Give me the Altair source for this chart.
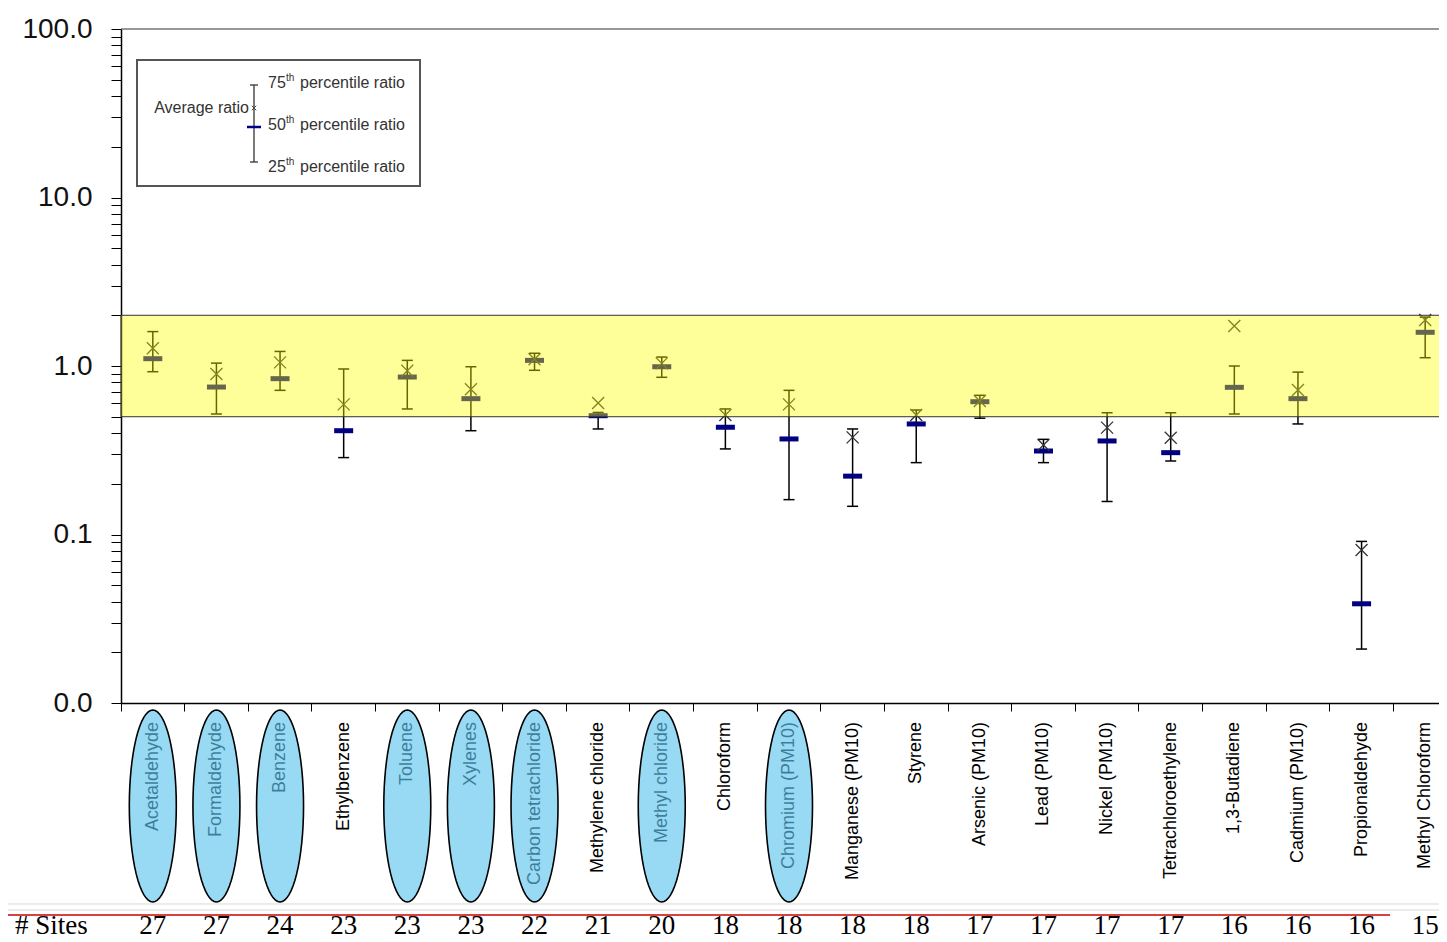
import math
import altair as alt
import pandas as pd

names = ["Acetaldehyde", "Formaldehyde", "Benzene", "Ethylbenzene", "Toluene", "Xylenes",
         "Carbon tetrachloride", "Methylene chloride", "Methyl chloride", "Chloroform",
         "Chromium (PM10)", "Manganese (PM10)", "Styrene", "Arsenic (PM10)", "Lead (PM10)",
         "Nickel (PM10)", "Tetrachloroethylene", "1,3-Butadiene", "Cadmium (PM10)",
         "Propionaldehyde", "Methyl Chloroform"]
p75 = [1.60, 1.04, 1.22, 0.96, 1.08, 0.99, 1.19, 0.53, 1.13, 0.556, 0.717, 0.423, 0.548,
       0.67, 0.367, 0.528, 0.528, 1.00, 0.92, 0.091, 1.95]
p50 = [1.105, 0.75, 0.841, 0.413, 0.86, 0.64, 1.08, 0.507, 0.99, 0.433, 0.369, 0.222, 0.453,
       0.614, 0.313, 0.359, 0.306, 0.747, 0.64, 0.0388, 1.585]
p25 = [0.925, 0.519, 0.717, 0.286, 0.556, 0.413, 0.943, 0.423, 0.857, 0.322, 0.161, 0.147,
       0.267, 0.49, 0.267, 0.157, 0.273, 0.519, 0.453, 0.0209, 1.12]
means = [1.274, 0.897, 1.051, 0.592, 0.938, 0.727, 1.096, 0.603, 1.037, 0.512, 0.592, 0.377,
         0.512, 0.62, 0.34, 0.431, 0.375, 1.727, 0.72, 0.0809, 1.875]
sites = [27, 27, 24, 23, 23, 23, 22, 21, 20, 18, 18, 18, 18, 17, 17, 17, 17, 16, 16, 16, 15]
highlighted = ["Acetaldehyde", "Formaldehyde", "Benzene", "Toluene", "Xylenes",
               "Carbon tetrachloride", "Methyl chloride", "Chromium (PM10)"]
band_low = [0.5]
band_high = [2.0]
major_ticks = [0.01, 0.1, 1, 10, 100]
y_ticks = [round(k * 10 ** e, 4) for e in range(-2, 2) for k in range(1, 10)] + [100]

legend_rows = ["75", "50", "25"]
legend_suffix = "percentile ratio"

df = pd.DataFrame({"name": names, "p25": p25, "p50": p50, "p75": p75, "mean": means,
                   "sites": sites})
df["hl"] = df["name"].isin(highlighted)
band_df = pd.DataFrame({"lo": band_low, "hi": band_high})
one = alt.Data(values=[{"k": 1}])

W, H = 1318, 674     # visible plot area (the chart is cropped on the right)
RANGE = 1336         # full category range, extends past the right crop
BOTTOM = 238
SANS = "Liberation Sans"
SERIF = "Liberation Serif"

yscale = alt.Scale(type="log", domain=[0.01, 100], nice=False)
xscale = alt.Scale(type="band", paddingInner=0, paddingOuter=0, range=[0, RANGE])
xaxis = alt.Axis(labels=False, bandPosition=0, tickSize=8, tickColor="black", domainColor="black",
                 domainWidth=1.5, tickWidth=1, title=None, grid=False)
yaxis = alt.Axis(values=y_ticks,
                 labelExpr="indexof(%s, datum.value) >= 0 ? format(datum.value, '.1f') : ''" % str(major_ticks),
                 tickSize=10, labelPadding=19, labelFontSize=28, labelFont=SANS, labelColor="#111",
                 labelOverlap=False, labelFlush=False, grid=False, title=None,
                 domainColor="black", domainWidth=1.5, tickColor="black", tickWidth=1)

X = alt.X("name:N", sort=names, scale=xscale, axis=xaxis)

base = alt.Chart(df)

whisk = base.mark_rule(color="black", strokeWidth=1.5, opacity=1).encode(
    x=X, y=alt.Y("p25:Q", scale=yscale, axis=yaxis), y2="p75:Q")
cap_lo = base.mark_tick(color="black", size=11, thickness=1.5, opacity=1).encode(
    x=X, y=alt.Y("p25:Q", scale=yscale))
cap_hi = base.mark_tick(color="black", size=11, thickness=1.5, opacity=1).encode(
    x=X, y=alt.Y("p75:Q", scale=yscale))
median = base.mark_tick(color="#000080", size=19, thickness=5, opacity=1).encode(
    x=X, y=alt.Y("p50:Q", scale=yscale))
xshape = "M-1,-1L1,1M-1,1L1,-1"
mean_pt = base.mark_point(shape=xshape, size=144, filled=False, stroke="#333333",
                          strokeWidth=1.3, opacity=1).encode(
    x=X, y=alt.Y("mean:Q", scale=yscale))

band = alt.Chart(band_df).mark_rect(fill="#ffff00", fillOpacity=0.4, stroke="#333",
                                    strokeWidth=1).encode(
    x=alt.value(0), x2=alt.value(RANGE), y=alt.Y("lo:Q", scale=yscale), y2="hi:Q")

top_border = alt.Chart(one).mark_rule(color="#333", strokeWidth=1.2).encode(
    x=alt.value(0), x2=alt.value(RANGE), y=alt.value(0))

# legend box
leg = [
    alt.Chart(one).mark_rect(fill="white", stroke="#555", strokeWidth=2).encode(
        x=alt.value(16), x2=alt.value(299), y=alt.value(31), y2=alt.value(157)),
    alt.Chart(one).mark_rule(color="#333", strokeWidth=1.3).encode(
        x=alt.value(133), y=alt.value(56), y2=alt.value(133)),
    alt.Chart(one).mark_rule(color="#333", strokeWidth=1.3).encode(
        x=alt.value(129), x2=alt.value(137), y=alt.value(56)),
    alt.Chart(one).mark_rule(color="#333", strokeWidth=1.3).encode(
        x=alt.value(129), x2=alt.value(137), y=alt.value(133)),
    alt.Chart(one).mark_rule(color="#000080", strokeWidth=2.5).encode(
        x=alt.value(126), x2=alt.value(140), y=alt.value(98)),
    alt.Chart(one).mark_point(shape=xshape, size=20, filled=False, stroke="#444",
                              strokeWidth=1, opacity=1).encode(x=alt.value(133), y=alt.value(79)),
    alt.Chart(one).mark_text(text="Average ratio", align="right", baseline="middle",
                             fontSize=16, font=SANS, color="#333").encode(
        x=alt.value(128), y=alt.value(79)),
]
for i, r in enumerate(legend_rows):
    yy = 54 + 42 * i
    leg.append(alt.Chart(one).mark_text(text=r, align="left", baseline="middle", fontSize=16,
                                        font=SANS, color="#333").encode(
        x=alt.value(147), y=alt.value(yy)))
    leg.append(alt.Chart(one).mark_text(text="th", align="left", baseline="middle", fontSize=10,
                                        font=SANS, color="#333").encode(
        x=alt.value(165), y=alt.value(yy - 5)))
    leg.append(alt.Chart(one).mark_text(text=legend_suffix, align="left", baseline="middle",
                                        fontSize=16, font=SANS, color="#333").encode(
        x=alt.value(179), y=alt.value(yy)))

labels = base.mark_text(angle=270, align="right", baseline="middle", fontSize=18, font=SANS,
                        color="black").encode(x=X, y=alt.value(H + 19), text="name:N")


def ellipse_path(rx, ry, n=64):
    pts = ["%.4f,%.4f" % (rx * math.cos(2 * math.pi * i / n), ry * math.sin(2 * math.pi * i / n))
           for i in range(n)]
    return "M" + "L".join(pts) + "Z"


EH = 192
ellipses = base.transform_filter("datum.hl").mark_point(
    shape=ellipse_path(47 / EH, 1), size=EH * EH, filled=True, fill="#5ec4ee",
    fillOpacity=0.64, stroke="black", strokeWidth=1.6, strokeOpacity=1, opacity=1).encode(
    x=X, y=alt.value(H + 7 + EH / 2))

grey1 = alt.Chart(one).mark_rule(color="#e4e4e4", strokeWidth=1.5).encode(
    x=alt.value(-113), x2=alt.value(RANGE), y=alt.value(H + 201))
grey2 = alt.Chart(one).mark_rule(color="#e4e4e4", strokeWidth=1.5).encode(
    x=alt.value(-113), x2=alt.value(RANGE), y=alt.value(H + 207))
red = alt.Chart(one).mark_rule(color="#cc0000", strokeWidth=1.3).encode(
    x=alt.value(-113), x2=alt.value(1269), y=alt.value(H + 212))
sites_txt = base.mark_text(font=SERIF, fontSize=27, baseline="alphabetic", align="center",
                           color="black").encode(x=X, y=alt.value(H + 231), text="sites:Q")
sites_lbl = alt.Chart(one).mark_text(text="# Sites", font=SERIF, fontSize=27,
                                     baseline="alphabetic", align="left", color="black").encode(
    x=alt.value(-106), y=alt.value(H + 231))

chart = alt.layer(whisk, cap_lo, cap_hi, median, mean_pt, band, top_border, *leg, labels,
                  ellipses, grey1, grey2, red, sites_txt, sites_lbl).properties(
    width=W, height=H,
    autosize=alt.AutoSizeParams(type="none"),
    padding={"left": 113, "top": 21, "right": 0, "bottom": BOTTOM},
).configure_view(stroke="transparent", strokeWidth=0)

chart.save("out.html", embed_options={"renderer": "svg", "actions": False})
